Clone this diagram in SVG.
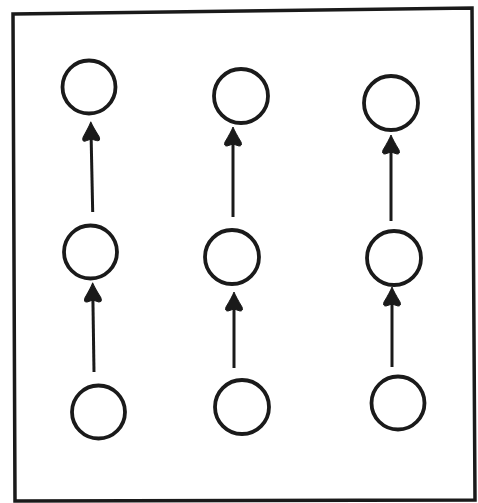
<svg xmlns="http://www.w3.org/2000/svg" width="478" height="503" viewBox="0 0 478 503">
<defs>
<style>
.n{fill:none;stroke:#1a1a1a;stroke-width:3.8}
.e{stroke:#1a1a1a;stroke-width:3;fill:none;marker-end:url(#ah)}
.frame{fill:none;stroke:#1a1a1a;stroke-width:3.5}
</style>
<marker id="ah" markerUnits="userSpaceOnUse" markerWidth="24" markerHeight="22" viewBox="-12 -11 24 22" refX="0" refY="0" orient="auto" overflow="visible">
<path d="M9,0 Q4,-2 -6,-8 Q-10,-9.5 -10,-6 L-8,0 L-10,6 Q-10,9.5 -6,8 Q4,2 9,0 Z" fill="#1a1a1a" stroke="#1a1a1a" stroke-width="1" stroke-linejoin="round"/>
</marker>
</defs>
<rect width="478" height="503" fill="#ffffff"/>
<path class="frame" d="M13,14 L472,8 L475,500 L15,501 Z"/>
<g id="connectors">
<line class="e" x1="92.7" y1="212" x2="91" y2="131"/>
<line class="e" x1="94" y1="372" x2="92.8" y2="292"/>
<line class="e" x1="233" y1="217" x2="233" y2="136"/>
<line class="e" x1="234" y1="368" x2="234" y2="301"/>
<line class="e" x1="391" y1="221" x2="391" y2="144"/>
<line class="e" x1="392" y1="367" x2="392" y2="296"/>
</g>
<g id="n1"><circle class="n" cx="89" cy="87" r="26.5"/></g>
<g id="n2"><circle class="n" cx="241" cy="96" r="27"/></g>
<g id="n3"><circle class="n" cx="391" cy="103" r="27"/></g>
<g id="n4"><circle class="n" cx="90.5" cy="252" r="26.5"/></g>
<g id="n5"><circle class="n" cx="232" cy="257" r="27"/></g>
<g id="n6"><circle class="n" cx="394" cy="258" r="27"/></g>
<g id="n7"><circle class="n" cx="98.5" cy="412" r="26.5"/></g>
<g id="n8"><circle class="n" cx="242" cy="407" r="27"/></g>
<g id="n9"><circle class="n" cx="398" cy="403" r="26.5"/></g>
</svg>
